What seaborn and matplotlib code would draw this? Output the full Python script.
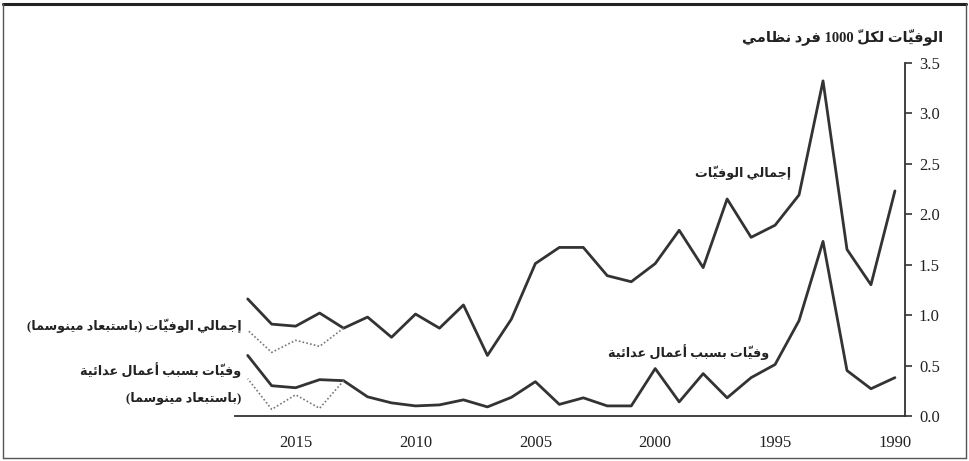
import numpy as np
import pandas as pd
import matplotlib
matplotlib.use("Agg")
import matplotlib.pyplot as plt
import seaborn as sns
from matplotlib.lines import Line2D

# ---------------- data ----------------
years = [2017, 2016, 2015, 2014, 2013, 2012, 2011, 2010, 2009, 2008, 2007, 2006, 2005, 2004,
         2003, 2002, 2001, 2000, 1999, 1998, 1997, 1996, 1995, 1994, 1993, 1992, 1991, 1990]
total_deaths = [1.16, 0.91, 0.89, 1.02, 0.87, 0.98, 0.78, 1.01, 0.87, 1.10, 0.60, 0.96, 1.51, 1.67,
                1.67, 1.39, 1.33, 1.51, 1.84, 1.47, 2.15, 1.77, 1.89, 2.19, 3.32, 1.65, 1.30, 2.23]
hostile_deaths = [0.60, 0.30, 0.28, 0.36, 0.35, 0.19, 0.13, 0.10, 0.11, 0.16, 0.09, 0.185, 0.34, 0.115,
                  0.18, 0.10, 0.10, 0.47, 0.14, 0.42, 0.18, 0.38, 0.51, 0.945, 1.73, 0.45, 0.27, 0.38]
years_excl = [2017, 2016, 2015, 2014, 2013]
total_excl = [0.85, 0.63, 0.75, 0.69, 0.87]
hostile_excl = [0.37, 0.066, 0.21, 0.076, 0.35]

x_ticks = [2015, 2010, 2005, 2000, 1995, 1990]
y_ticks = [0.0, 0.5, 1.0, 1.5, 2.0, 2.5, 3.0, 3.5]

title_text = "الوفيّات لكلّ 1000 فرد نظامي"
label_total = "إجمالي الوفيّات"
label_hostile = "وفيّات بسبب أعمال عدائية"
label_total_excl = "إجمالي الوفيّات (باستبعاد مينوسما)"
label_hostile_excl_1 = "وفيّات بسبب أعمال عدائية"
label_hostile_excl_2 = "(باستبعاد مينوسما)"

# ------------- minimal Arabic shaping (contextual forms + RTL order) -------------
FORMS = {  # isolated, final, initial, medial
    "\u0627": ("\uFE8D", "\uFE8E", None, None),
    "\u0623": ("\uFE83", "\uFE84", None, None),
    "\u0625": ("\uFE87", "\uFE88", None, None),
    "\u0628": ("\uFE8F", "\uFE90", "\uFE91", "\uFE92"),
    "\u0629": ("\uFE93", "\uFE94", None, None),
    "\u062A": ("\uFE95", "\uFE96", "\uFE97", "\uFE98"),
    "\u062C": ("\uFE9D", "\uFE9E", "\uFE9F", "\uFEA0"),
    "\u062F": ("\uFEA9", "\uFEAA", None, None),
    "\u0631": ("\uFEAD", "\uFEAE", None, None),
    "\u0633": ("\uFEB1", "\uFEB2", "\uFEB3", "\uFEB4"),
    "\u0638": ("\uFEC5", "\uFEC6", "\uFEC7", "\uFEC8"),
    "\u0639": ("\uFEC9", "\uFECA", "\uFECB", "\uFECC"),
    "\u0641": ("\uFED1", "\uFED2", "\uFED3", "\uFED4"),
    "\u0643": ("\uFED9", "\uFEDA", "\uFEDB", "\uFEDC"),
    "\u0644": ("\uFEDD", "\uFEDE", "\uFEDF", "\uFEE0"),
    "\u0645": ("\uFEE1", "\uFEE2", "\uFEE3", "\uFEE4"),
    "\u0646": ("\uFEE5", "\uFEE6", "\uFEE7", "\uFEE8"),
    "\u0648": ("\uFEED", "\uFEEE", None, None),
    "\u064A": ("\uFEF1", "\uFEF2", "\uFEF3", "\uFEF4"),
    "\u0626": ("\uFE89", "\uFE8A", "\uFE8B", "\uFE8C"),
}
MARKS = {"\u0651", "\u064B", "\u064C", "\u064D", "\u064E", "\u064F", "\u0650", "\u0652"}


def shape_ar(text):
    chars = list(text)
    n = len(chars)

    def neighbour(i, step):
        j = i + step
        while 0 <= j < n and chars[j] in MARKS:
            j += step
        return chars[j] if 0 <= j < n else None

    out = []
    for i, c in enumerate(chars):
        if c in FORMS:
            p = neighbour(i, -1)
            nx = neighbour(i, 1)
            cp = p in FORMS and FORMS[p][2] is not None
            cn = FORMS[c][2] is not None and nx in FORMS
            f = FORMS[c]
            out.append(f[3] if (cp and cn) else f[1] if cp else f[2] if cn else f[0])
        else:
            out.append(c)
    tokens = []
    for ch in out:
        if ch.isdigit() and tokens and tokens[-1][-1].isdigit():
            tokens[-1] += ch
        else:
            tokens.append(ch)
    tokens.reverse()
    mirror = {"(": ")", ")": "("}
    return "".join(mirror.get(t, t) for t in tokens)


# ---------------- figure ----------------
sns.set_style("white")
plt.rcParams["font.family"] = ["Liberation Serif", "DejaVu Sans"]

W, H = 969, 461
fig = plt.figure(figsize=(W / 100, H / 100), dpi=100)
ax = fig.add_axes([235 / W, 1 - 416 / H, (905 - 235) / W, (416 - 62.7) / H])

df = pd.DataFrame({"year": years, "total": total_deaths, "hostile": hostile_deaths})
dfx = pd.DataFrame({"year": years_excl, "total": total_excl, "hostile": hostile_excl})

line_col = "#333333"
sns.lineplot(data=df, x="year", y="total", ax=ax, color=line_col, linewidth=2.0)
sns.lineplot(data=df, x="year", y="hostile", ax=ax, color=line_col, linewidth=2.0)
sns.lineplot(data=dfx, x="year", y="total", ax=ax, color="#777777", linewidth=1.2,
             linestyle=(0, (1, 1.3)))
sns.lineplot(data=dfx, x="year", y="hostile", ax=ax, color="#777777", linewidth=1.2,
             linestyle=(0, (1, 1.3)))

ax.set_xlim(2017.53, 1989.58)
ax.set_ylim(0, 3.5)
ax.set_xlabel("")
ax.set_ylabel("")
ax.set_xticks(x_ticks)
ax.set_xticklabels([str(t) for t in x_ticks])
ax.set_yticks(y_ticks)
ax.set_yticklabels([f"{t:.1f}" for t in y_ticks])
ax.yaxis.tick_right()
for s in ["top", "left"]:
    ax.spines[s].set_visible(False)
for s in ["bottom", "right"]:
    ax.spines[s].set_color("#333333")
    ax.spines[s].set_linewidth(1.3)
ax.tick_params(axis="both", which="both", direction="out", length=5, width=1.2,
               color="#333333", labelsize=12, labelcolor="#222222")
ax.tick_params(axis="x", pad=9)
ax.tick_params(axis="y", pad=5)
ax.patch.set_alpha(0)

ar = dict(family=["Liberation Serif", "DejaVu Sans"], fontweight="bold", color="#222222")


def ftext(x, y, s, size, **kw):
    fig.text(x / W, 1 - y / H, shape_ar(s), ha="right", va="center", fontsize=size, **ar, **kw)


ftext(943, 37, title_text, 10.5)
ftext(791, 173, label_total, 9.2)
ftext(769, 352, label_hostile, 9.2)
ftext(242, 326, label_total_excl, 9.2)
ftext(241, 370, label_hostile_excl_1, 9.2)
ftext(241, 398, label_hostile_excl_2, 9.2)

# figure frame
fr = "#222222"
fig.add_artist(Line2D([3 / W, 966 / W], [1 - 4 / H, 1 - 4 / H], transform=fig.transFigure, color=fr, lw=2.2))
fig.add_artist(Line2D([3 / W, 3 / W], [1 - 4 / H, 1 - 458 / H], transform=fig.transFigure, color="#555555", lw=1.0))
fig.add_artist(Line2D([966 / W, 966 / W], [1 - 4 / H, 1 - 458 / H], transform=fig.transFigure, color="#555555", lw=1.0))
fig.add_artist(Line2D([3 / W, 966 / W], [1 - 458 / H, 1 - 458 / H], transform=fig.transFigure, color="#555555", lw=1.0))

fig.savefig("out.png", dpi=100)
